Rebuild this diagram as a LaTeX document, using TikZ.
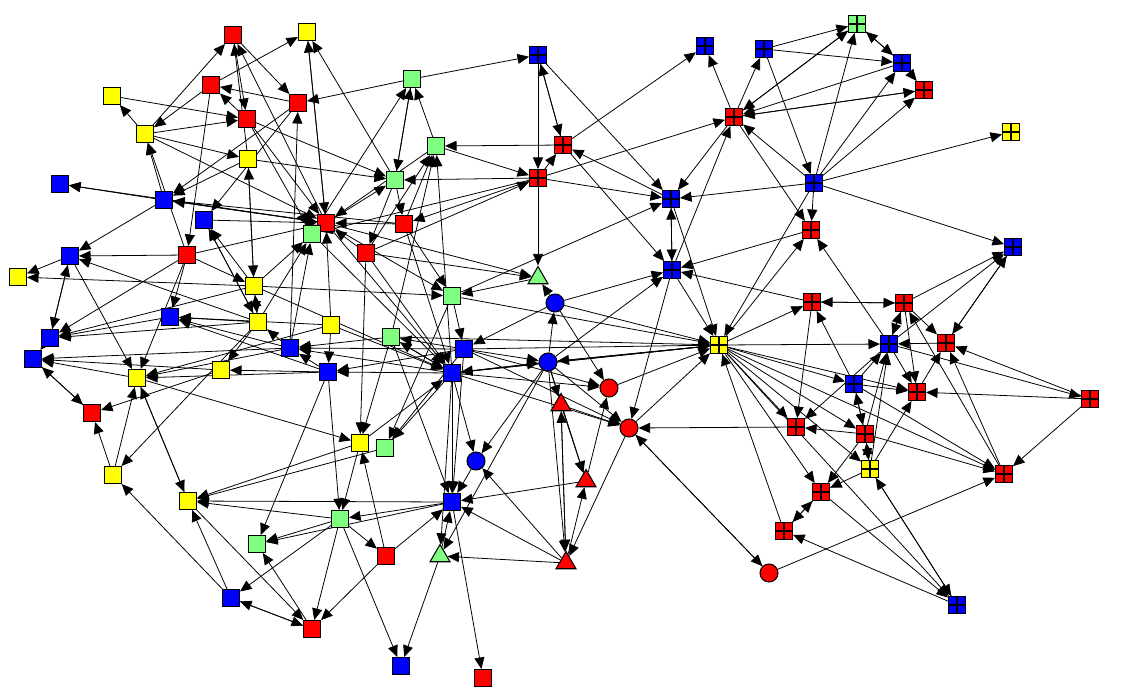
\documentclass[tikz,border=0pt]{standalone}
\usepackage{xcolor}
\usepackage{tikz}
\usetikzlibrary{arrows.meta, shapes.geometric, backgrounds}
\definecolor{netred}{RGB}{255, 0, 0}
\definecolor{netyellow}{RGB}{255, 255, 0}
\definecolor{netblue}{RGB}{0, 0, 255}
\definecolor{netgreen}{RGB}{128, 255, 128}

\tikzset{
  vtx/.style={draw=black, line width=0.6pt, inner sep=0pt},
  box/.style={vtx, rectangle, minimum size=0.34cm},
  gridbox/.style={box, path picture={\draw[line width=0.6pt]
      (path picture bounding box.north) -- (path picture bounding box.south)
      (path picture bounding box.west) -- (path picture bounding box.east);}},
  dot/.style={vtx, circle, minimum size=0.36cm},
  tri/.style={vtx, regular polygon, regular polygon sides=3, minimum size=0.46cm},
  rs/.style={box, fill=netred}, ys/.style={box, fill=netyellow},
  bs/.style={box, fill=netblue}, gs/.style={box, fill=netgreen},
  rg/.style={gridbox, fill=netred}, yg/.style={gridbox, fill=netyellow},
  bg/.style={gridbox, fill=netblue}, gg/.style={gridbox, fill=netgreen},
  rc/.style={dot, fill=netred}, bc/.style={dot, fill=netblue},
  rt/.style={tri, fill=netred}, gt/.style={tri, fill=netgreen},
  link/.style={-{Triangle[length=0.23cm, width=0.2cm]}, line width=0.45pt}
}

\begin{document}
\begin{tikzpicture}[x=0.02cm, y=-0.02cm]
  \useasboundingbox (0,0) rectangle (1132,697);

  % vertices
  \foreach \id/\x/\y/\kind in {
      1/233/35/rs, 2/307/32/ys, 3/211/85/rs, 4/112/96/ys, 5/298/103/rs,
      6/412/79/gs, 7/538/55/bg, 8/247/119/rs, 9/145/134/ys, 10/436/146/gs,
      11/563/145/rg, 12/538/178/rg, 13/248/159/ys, 14/395/180/gs, 15/60/184/bs,
      16/164/200/bs, 17/204/220/bs, 18/326/223/rs, 19/312/234/gs, 20/404/224/rs,
      21/366/253/rs, 22/187/255/rs, 23/70/256/bs, 24/18/277/ys, 25/254/286/ys,
      26/538/278/gt, 27/555/303/bc, 28/452/296/gs, 29/170/317/bs, 30/258/322/ys,
      31/331/325/ys, 32/391/337/gs, 33/50/338/bs, 34/33/359/bs, 35/290/348/bs,
      36/464/349/bs, 37/548/362/bc, 38/328/372/bs, 39/452/373/bs, 40/137/378/ys,
      41/221/370/ys, 42/609/388/rc, 43/561/405/rt, 44/92/413/rs, 45/629/428/rc,
      46/360/443/ys, 47/385/448/gs, 48/476/461/bc, 49/586/481/rt, 50/113/475/ys,
      51/188/501/ys, 52/452/502/bs, 53/340/519/gs, 54/257/544/gs, 55/386/556/rs,
      56/440/556/gt, 57/566/563/rt, 58/231/598/bs, 59/312/629/rs, 60/401/666/bs,
      61/483/678/rs, 62/705/46/bg, 63/764/49/bg, 64/857/24/gg, 65/902/63/bg,
      66/924/90/rg, 67/734/117/rg, 68/1011/132/yg, 69/671/199/bg, 70/814/183/bg,
      71/811/230/rg, 72/1013/247/bg, 73/672/270/bg, 74/812/302/rg, 75/904/303/rg,
      76/719/345/yg, 77/889/344/bg, 78/946/343/rg, 79/854/384/bg, 80/917/392/rg,
      81/1090/399/rg, 82/796/427/rg, 83/865/434/rg, 84/870/469/yg, 85/1004/474/rg,
      86/821/492/rg, 87/784/531/rg, 88/769/573/rc, 89/957/605/bg} {
    \node[\kind] (n\id) at (\x,\y) {};
  }

  % directed links
  \begin{scope}[on background layer]
  \foreach \a/\b in {
      9/1, 1/8, 1/5, 18/1, 13/1, 3/2, 14/2, 2/18, 18/2, 5/3, 8/3, 3/22, 3/9,
      4/8, 9/4, 9/8, 9/18, 9/13, 16/9, 22/9, 16/15, 18/15, 13/16, 18/16, 20/16,
      16/23, 13/25, 25/13, 13/14, 6/5, 35/5, 5/17, 5/16, 6/7, 6/14, 14/6, 10/6,
      19/6, 7/11, 11/7, 7/12, 7/69, 11/10, 10/12, 20/10, 21/10, 32/10, 39/10,
      12/14, 18/14, 14/21, 14/20, 8/14, 12/11, 11/62, 69/11, 11/73, 12/67,
      12/26, 12/20, 21/12,
      67/63, 63/70, 67/62, 64/67, 65/67, 66/67, 67/69, 73/67, 67/71, 70/67,
      63/64, 63/65, 70/64, 67/64, 64/65, 65/64, 70/65, 65/66, 67/66, 70/66,
      70/68, 70/71, 70/69, 70/72, 70/76, 12/69, 28/69, 73/69, 69/73, 69/76,
      76/71, 77/71, 71/73, 75/72, 78/72, 72/78, 77/72, 27/73, 37/73, 73/45,
      73/76, 74/73,
      76/77, 76/74, 76/79, 76/80, 76/83, 76/84, 76/82, 76/86, 87/76, 76/85,
      76/89, 74/75, 75/74, 77/75, 75/77, 75/80, 75/78, 78/77, 79/77, 84/77,
      83/77, 77/80, 77/81, 81/78, 80/78, 85/78, 85/75, 79/83, 83/79, 79/80,
      79/85, 81/80, 81/85, 84/80, 83/84, 84/83, 83/82, 82/45, 74/82, 77/82,
      79/74, 84/86, 86/87, 87/86, 84/89, 89/84, 86/89, 89/87, 45/88, 88/45,
      88/85, 83/85, 83/86,
      22/23, 23/40, 33/23, 23/33, 23/24, 25/24, 29/33, 25/33, 30/33, 22/33,
      40/34, 41/34, 44/34, 34/44, 33/34, 22/29, 30/29, 31/29, 35/29, 38/29,
      22/40, 50/40, 51/40, 38/40, 31/40, 35/40, 41/44, 30/50, 30/41, 50/44,
      58/50, 40/51, 53/51, 52/51, 47/51, 58/51, 51/59, 38/54, 53/54, 52/54,
      59/54, 53/58, 59/58, 58/59, 55/59, 53/59, 38/53, 46/53, 52/53, 53/60,
      53/55, 55/52, 55/46, 39/56, 57/56, 37/56, 56/52, 56/60, 48/52, 57/52,
      52/61, 39/52, 32/52, 36/52, 49/52, 43/57, 57/49, 57/48, 37/49, 39/48,
      37/48,
      20/28, 25/28, 18/28, 26/28, 28/36, 28/76, 28/47, 21/26, 18/26, 27/26,
      37/27, 27/76, 27/42, 36/37, 39/37, 37/43, 37/45, 76/37, 37/57, 57/43,
      43/49, 43/45, 49/42, 42/76, 36/42, 39/42, 36/45, 39/45, 45/57,
      17/18, 22/18, 25/19, 30/19, 31/18, 35/19, 21/18, 20/18, 10/18, 12/19,
      19/39, 21/46, 22/25, 25/30, 30/25, 30/23, 35/30, 17/30, 31/38, 36/32,
      39/32, 32/46, 32/35, 32/76, 36/35, 39/35, 38/35, 35/34, 38/41, 39/38,
      36/38, 36/47, 39/47, 46/51, 40/46, 27/36, 18/39, 21/39, 20/39, 32/39,
      31/39, 25/39, 37/39, 76/39, 46/39, 36/76, 39/76, 37/76, 45/76, 30/17,
      25/17, 16/18, 8/18, 8/19} {
    \draw[link] (n\a) -- (n\b);
  }
  \end{scope}
\end{tikzpicture}
\end{document}
